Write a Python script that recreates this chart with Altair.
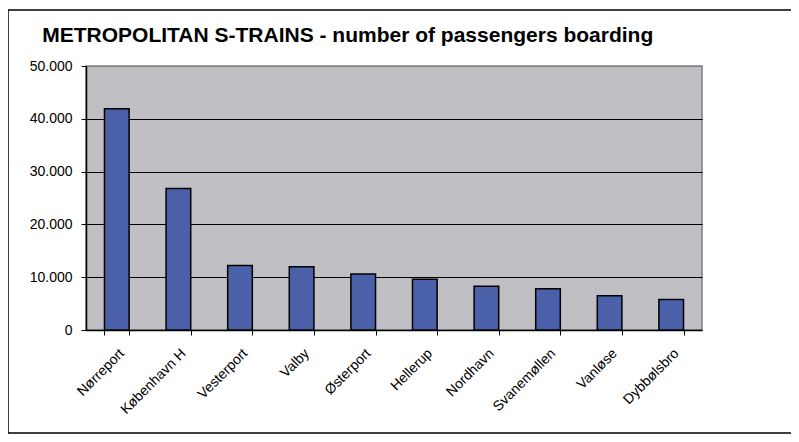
import altair as alt
import pandas as pd

stations = ["Nørreport", "København H", "Vesterport", "Valby", "Østerport",
            "Hellerup", "Nordhavn", "Svanemøllen", "Vanløse", "Dybbølsbro"]
passengers = [41900, 26800, 12200, 12000, 10600, 9600, 8300, 7800, 6500, 5800]
y_ticks = [0, 10000, 20000, 30000, 40000, 50000]
title_text = "METROPOLITAN S-TRAINS - number of passengers boarding"

df = pd.DataFrame({"station": stations, "passengers": passengers})
frame_df = pd.DataFrame({"k": [0]})

FONT = "Liberation Sans"

frame = alt.Chart(frame_df).mark_rect(
    fill="transparent", stroke="black", strokeWidth=1.5
).encode(
    x=alt.value(-78), x2=alt.value(706), y=alt.value(-56), y2=alt.value(367)
)

bars = alt.Chart(df).mark_bar(
    color="#4a60a8", stroke="black", strokeWidth=1.5
).encode(
    x=alt.X("station:N", sort=stations, title=None,
            scale=alt.Scale(paddingInner=0.6, paddingOuter=0.3),
            axis=alt.Axis(labelAngle=-45, labelFontSize=14, labelFont=FONT,
                          labelColor="black", tickBand="extent", tickColor="black",
                          tickSize=5, domainColor="black", domainWidth=1.5,
                          labelPadding=11)),
    y=alt.Y("passengers:Q", title=None,
            scale=alt.Scale(domain=[0, 50000], nice=False),
            axis=alt.Axis(values=y_ticks, labelFontSize=14, labelFont=FONT,
                          labelColor="black", tickColor="black", tickSize=5,
                          labelPadding=9, domainColor="black", domainWidth=1.5,
                          gridColor={"condition": {"test": "datum.value >= 50000", "value": "#808080"},
                                     "value": "black"},
                          gridWidth=1.2,
                          labelExpr="replace(format(datum.value, ','), ',', '.')"))
)

chart = alt.layer(frame, bars).properties(
    width=616, height=264,
    autosize=alt.AutoSizeParams(type="none"),
    padding={"left": 78, "top": 58, "right": 89, "bottom": 104},
    title=alt.TitleParams(title_text, anchor="start", fontSize=21, font=FONT,
                          fontWeight="bold", color="black", dx=35, dy=37, offset=0),
).configure_view(
    fill="#c0bfc4", stroke="#808080", strokeWidth=1.5
)

chart.save("out.html", embed_options={"renderer": "svg", "actions": False})
